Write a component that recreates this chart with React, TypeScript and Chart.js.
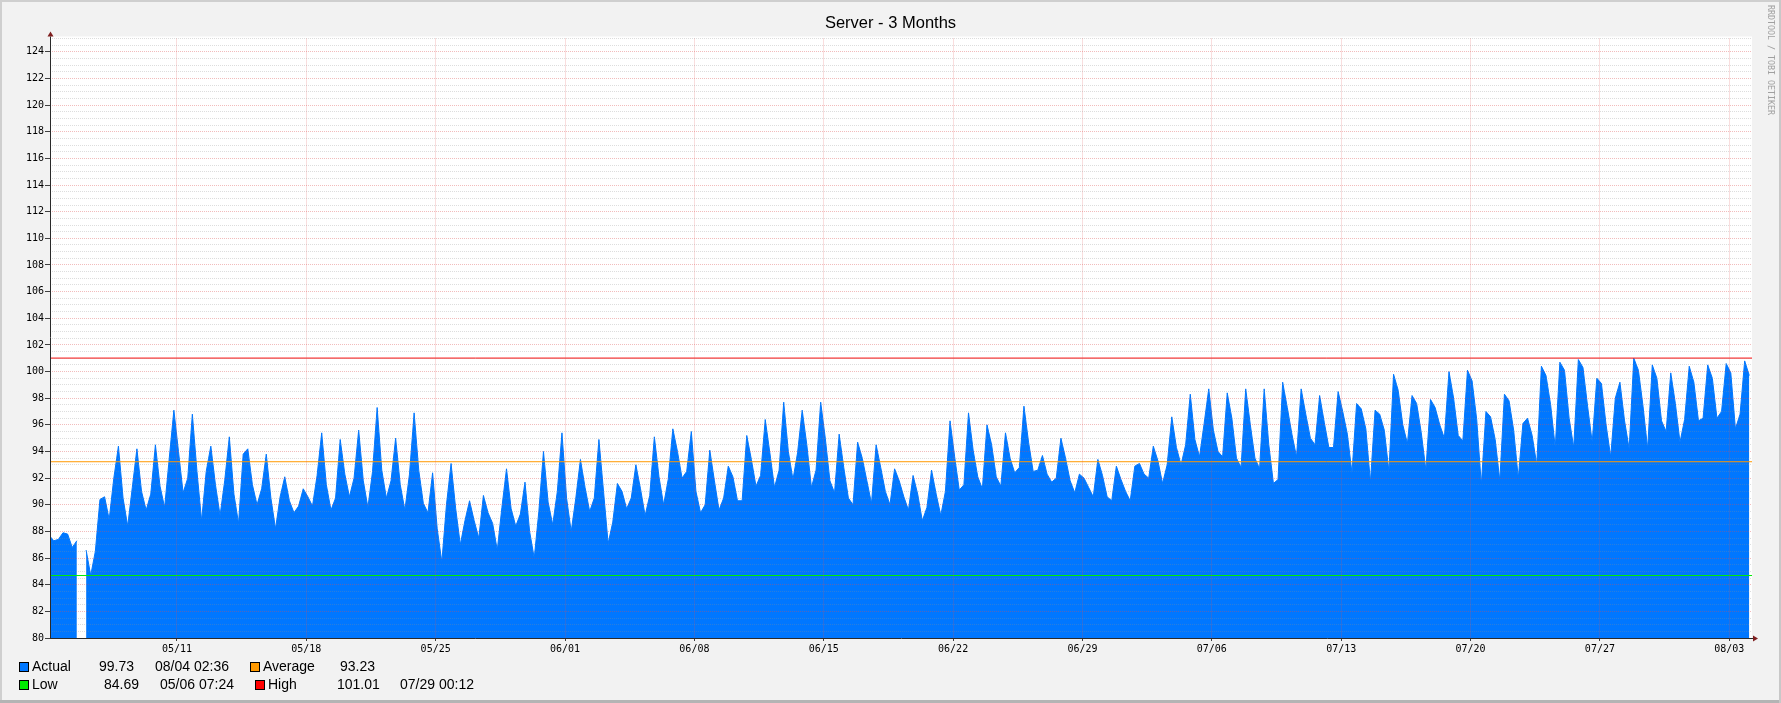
import React, { useEffect, useRef } from "react";
import { Chart, registerables } from "chart.js";

Chart.register(...registerables);

const chartTitle = "Server - 3 Months";
const watermark = "RRDTOOL / TOBI OETIKER";

// time axis in days after 05/04 00:00
const xMinDay = 0.13;
const xMaxDay = 92.23;
const firstHour = 2; // first sample 05/04 02:00
const stepHours = 6; // samples at 02:00, 08:00, 14:00, 20:00

const weekTickDays = [7, 14, 21, 28, 35, 42, 49, 56, 63, 70, 77, 84, 91];
const weekTickLabels = [
  "05/11", "05/18", "05/25", "06/01", "06/08", "06/15", "06/22",
  "06/29", "07/06", "07/13", "07/20", "07/27", "08/03",
];

const yMin = 80;
const yMax = 125;

// 02:00, 08:00, 14:00, 20:00 per day
const actual: (number | null)[] = [
  87.7, 87.3, 87.4, 87.9, // 05/04
  87.8, 86.8, 87.3, null, // 05/05
  86.6, 84.7, 86.5, 90.4, // 05/06
  90.6, 88.9, 92.0, 94.4, // 05/07
  90.5, 88.4, 91.3, 94.2, // 05/08
  91.0, 89.6, 90.8, 94.5, // 05/09
  91.4, 89.8, 93.5, 97.1, // 05/10
  94.0, 90.9, 92.0, 96.8, // 05/11
  92.5, 88.8, 92.5, 94.4, // 05/12
  91.5, 89.2, 91.8, 95.1, // 05/13
  90.8, 88.6, 93.8, 94.2, // 05/14
  91.5, 90.0, 91.2, 93.8, // 05/15
  90.5, 88.2, 90.6, 92.1, // 05/16
  90.3, 89.4, 89.9, 91.2, // 05/17
  90.6, 89.9, 92.2, 95.4, // 05/18
  91.5, 89.6, 90.5, 94.9, // 05/19
  92.3, 90.6, 92.0, 95.6, // 05/20
  91.8, 89.8, 92.5, 97.3, // 05/21
  92.6, 90.5, 91.8, 95.0, // 05/22
  91.5, 89.6, 92.3, 96.9, // 05/23
  92.6, 90.1, 89.4, 92.4, // 05/24
  88.2, 85.7, 90.0, 93.1, // 05/25
  89.7, 87.0, 88.8, 90.3, // 05/26
  88.8, 87.5, 90.7, 89.4, // 05/27
  88.6, 86.6, 89.8, 92.7, // 05/28
  89.7, 88.4, 89.3, 91.7, // 05/29
  88.0, 86.0, 89.5, 94.0, // 05/30
  90.2, 88.5, 91.0, 95.4, // 05/31
  90.5, 88.0, 90.5, 93.4, // 06/01
  91.3, 89.5, 90.5, 94.9, // 06/02
  91.0, 87.1, 88.7, 91.6, // 06/03
  91.0, 89.7, 90.5, 93.0, // 06/04
  91.2, 89.2, 90.7, 95.1, // 06/05
  92.1, 90.0, 91.9, 95.7, // 06/06
  94.0, 92.0, 92.5, 95.5, // 06/07
  91.0, 89.4, 90.0, 94.1, // 06/08
  91.8, 89.6, 90.5, 92.9, // 06/09
  92.1, 90.3, 90.3, 95.2, // 06/10
  93.4, 91.4, 92.2, 96.4, // 06/11
  93.9, 91.3, 92.6, 97.7, // 06/12
  94.0, 91.9, 93.9, 97.1, // 06/13
  94.5, 91.3, 92.6, 97.7, // 06/14
  95.0, 91.8, 90.9, 95.3, // 06/15
  92.8, 90.5, 90.0, 94.7, // 06/16
  93.5, 91.8, 90.1, 94.5, // 06/17
  92.8, 91.0, 90.0, 92.7, // 06/18
  91.8, 90.6, 89.6, 92.2, // 06/19
  90.8, 88.8, 89.8, 92.6, // 06/20
  90.8, 89.2, 91.0, 96.3, // 06/21
  93.6, 91.1, 91.5, 96.9, // 06/22
  94.1, 92.1, 91.2, 96.0, // 06/23
  94.5, 92.1, 91.4, 95.4, // 06/24
  93.5, 92.4, 92.8, 97.4, // 06/25
  94.7, 92.5, 92.6, 93.7, // 06/26
  92.3, 91.7, 92.0, 95.0, // 06/27
  93.5, 91.8, 90.9, 92.3, // 06/28
  92.0, 91.3, 90.6, 93.4, // 06/29
  92.2, 90.6, 90.3, 92.9, // 06/30
  91.9, 91.0, 90.3, 92.9, // 07/01
  93.1, 92.3, 92.0, 94.4, // 07/02
  93.3, 91.6, 93.0, 96.6, // 07/03
  94.3, 93.0, 94.5, 98.3, // 07/04
  94.9, 93.6, 96.1, 98.7, // 07/05
  95.6, 94.0, 93.6, 98.4, // 07/06
  96.5, 93.5, 92.8, 98.7, // 07/07
  96.0, 93.5, 92.7, 98.7, // 07/08
  94.5, 91.6, 91.9, 99.2, // 07/09
  97.3, 95.3, 93.6, 98.7, // 07/10
  96.8, 95.0, 94.5, 98.2, // 07/11
  96.2, 94.3, 94.3, 98.5, // 07/12
  97.0, 95.3, 92.4, 97.6, // 07/13
  97.2, 95.7, 91.7, 97.1, // 07/14
  96.8, 95.6, 92.5, 99.8, // 07/15
  98.6, 96.0, 94.6, 98.2, // 07/16
  97.6, 95.4, 92.6, 97.9, // 07/17
  97.3, 96.0, 95.0, 100.0, // 07/18
  98.0, 95.2, 94.8, 100.1, // 07/19
  99.3, 96.4, 91.5, 97.0, // 07/20
  96.6, 94.9, 91.8, 98.3, // 07/21
  97.8, 95.6, 92.0, 96.1, // 07/22
  96.5, 95.2, 93.0, 100.4, // 07/23
  99.7, 97.5, 94.3, 100.7, // 07/24
  100.1, 96.5, 94.3, 100.9, // 07/25
  100.3, 97.4, 94.7, 99.5, // 07/26
  99.1, 96.0, 93.6, 98.0, // 07/27
  99.2, 96.3, 94.2, 101.0, // 07/28
  100.1, 97.4, 94.2, 100.5, // 07/29
  99.5, 96.3, 95.5, 99.9, // 07/30
  97.6, 94.7, 96.4, 100.4, // 07/31
  99.2, 96.3, 96.5, 100.5, // 08/01
  99.5, 96.5, 97.0, 100.6, // 08/02
  99.9, 95.7, 96.8, 100.8, // 08/03
  99.7, // 08/04
];

const averageValue = 93.23;
const lowValue = 84.69;
const highValue = 101.01;

const actualLast = "99.73";
const actualLastTime = "08/04 02:36";
const lowTime = "05/06 07:24";
const highTime = "07/29 00:12";

const blue = "#0077ff";
const orange = "#ff9900";
const green = "#00ee00";
const red = "#ff0000";

const monoFont = '"DejaVu Sans Mono", monospace';
const sansFont = '"Liberation Sans", Arial, sans-serif';

const drawBox = (ctx: CanvasRenderingContext2D, x: number, y: number, color: string) => {
  ctx.fillStyle = color;
  ctx.fillRect(x, y, 10, 10);
  ctx.strokeStyle = "#000000";
  ctx.lineWidth = 1;
  ctx.strokeRect(x + 0.5, y + 0.5, 9, 9);
};

const rrdPlugin = {
  id: "rrdFrame",
  beforeDraw(chart: any) {
    const { ctx, width, height, chartArea: a } = chart;
    ctx.save();
    ctx.fillStyle = "#f2f2f2";
    ctx.fillRect(0, 0, width, height);
    ctx.fillStyle = "#cfcfcf";
    ctx.fillRect(0, 0, width, 2);
    ctx.fillRect(0, 0, 2, height);
    ctx.fillStyle = "#b4b4b4";
    ctx.fillRect(0, height - 3, width, 3);
    ctx.fillStyle = "#c8c8c8";
    ctx.fillRect(width - 2, 0, 2, height);
    ctx.fillStyle = "#ffffff";
    ctx.fillRect(a.left, a.top - 2, a.right - a.left, a.bottom - a.top + 2);
    ctx.restore();
  },
  afterDraw(chart: any) {
    const { ctx, width, chartArea: a } = chart;
    ctx.save();

    // axes
    ctx.strokeStyle = "#2a2a2a";
    ctx.lineWidth = 1;
    ctx.beginPath();
    ctx.moveTo(a.left + 0.5, a.bottom + 0.5);
    ctx.lineTo(a.left + 0.5, a.top - 2);
    ctx.moveTo(a.left, a.bottom + 0.5);
    ctx.lineTo(a.right + 1, a.bottom + 0.5);
    ctx.stroke();

    // arrows
    ctx.fillStyle = "#7f1f1f";
    ctx.beginPath();
    ctx.moveTo(a.left + 0.5 - 3, a.top - 2);
    ctx.lineTo(a.left + 0.5 + 3, a.top - 2);
    ctx.lineTo(a.left + 0.5, a.top - 7);
    ctx.closePath();
    ctx.fill();
    ctx.beginPath();
    ctx.moveTo(a.right + 1, a.bottom + 0.5 - 3);
    ctx.lineTo(a.right + 1, a.bottom + 0.5 + 3);
    ctx.lineTo(a.right + 6, a.bottom + 0.5);
    ctx.closePath();
    ctx.fill();

    // title
    ctx.fillStyle = "#000000";
    ctx.font = `16.5px ${sansFont}`;
    ctx.textAlign = "center";
    ctx.textBaseline = "alphabetic";
    ctx.fillText(chartTitle, width / 2, 28);

    // legend
    ctx.textAlign = "left";
    ctx.font = `14px ${sansFont}`;
    drawBox(ctx, 19, 662, blue);
    ctx.fillStyle = "#000000";
    ctx.fillText("Actual", 32, 671);
    ctx.fillText(actualLast, 99, 671);
    ctx.fillText(actualLastTime, 155, 671);
    drawBox(ctx, 250, 662, orange);
    ctx.fillStyle = "#000000";
    ctx.fillText("Average", 263, 671);
    ctx.fillText(averageValue.toFixed(2), 340, 671);

    drawBox(ctx, 19, 680, green);
    ctx.fillStyle = "#000000";
    ctx.fillText("Low", 32, 689);
    ctx.fillText(lowValue.toFixed(2), 104, 689);
    ctx.fillText(lowTime, 160, 689);
    drawBox(ctx, 255, 680, red);
    ctx.fillStyle = "#000000";
    ctx.fillText("High", 268, 689);
    ctx.fillText(highValue.toFixed(2), 337, 689);
    ctx.fillText(highTime, 400, 689);

    // watermark
    ctx.translate(width - 13, 5);
    ctx.rotate(Math.PI / 2);
    ctx.fillStyle = "#a0a0a0";
    ctx.font = `8.3px ${monoFont}`;
    ctx.fillText(watermark, 0, 0);

    ctx.restore();
  },
};

const RrdChart = () => {
  const canvasRef = useRef<HTMLCanvasElement>(null);

  useEffect(() => {
    document.body.style.margin = "0";
    const points = actual.map((y, i) => ({ x: (firstHour + i * stepHours) / 24, y }));
    const rule = (v: number) => [
      { x: xMinDay, y: v },
      { x: xMaxDay, y: v },
    ];

    const chart = new Chart(canvasRef.current as HTMLCanvasElement, {
      type: "line",
      data: {
        datasets: [
          {
            label: "High",
            data: rule(highValue),
            borderColor: red,
            borderWidth: 1,
            pointRadius: 0,
            fill: false,
            order: 0,
          },
          {
            label: "Average",
            data: rule(averageValue),
            borderColor: orange,
            borderWidth: 1,
            pointRadius: 0,
            fill: false,
            order: 0,
          },
          {
            label: "Low",
            data: rule(lowValue),
            borderColor: green,
            borderWidth: 1,
            pointRadius: 0,
            fill: false,
            order: 0,
          },
          {
            label: "Actual",
            data: points,
            borderColor: blue,
            backgroundColor: blue,
            borderWidth: 1,
            pointRadius: 0,
            tension: 0,
            fill: "start",
            order: 1,
          },
        ],
      },
      options: {
        animation: false,
        responsive: false,
        events: [],
        layout: { padding: { left: 0, right: 29, top: 38.5, bottom: 45 } },
        plugins: {
          legend: { display: false },
          title: { display: false },
          tooltip: { enabled: false },
        },
        scales: {
          x: {
            type: "linear",
            min: xMinDay,
            max: xMaxDay,
            afterBuildTicks: (axis: any) => {
              axis.ticks = weekTickDays.map((value) => ({ value }));
            },
            afterFit: (axis: any) => {
              axis.height = 20;
            },
            ticks: {
              autoSkip: false,
              maxRotation: 0,
              padding: 2,
              color: "#000000",
              font: { family: monoFont, size: 10 },
              callback: (_v: any, i: number) => weekTickLabels[i],
            },
            grid: {
              color: "rgba(222, 79, 79, 0.38)",
              lineWidth: 1,
              z: 1,
              tickLength: 3,
              tickColor: "#404040",
            },
            border: { display: false, dash: [1, 1] },
          },
          y: {
            min: yMin,
            max: yMax,
            afterFit: (axis: any) => {
              axis.width = 50;
            },
            ticks: {
              stepSize: 0.5,
              autoSkip: false,
              padding: 1,
              color: "#000000",
              font: { family: monoFont, size: 10 },
              callback: (v: any) => (Number(v) % 2 === 0 ? String(v) : ""),
            },
            grid: {
              color: (c: any) =>
                c.tick && c.tick.value % 2 === 0
                  ? "rgba(222, 79, 79, 0.38)"
                  : "rgba(143, 143, 143, 0.3)",
              tickColor: (c: any) =>
                c.tick && c.tick.value % 2 === 0 ? "#404040" : "rgba(0,0,0,0)",
              lineWidth: 1,
              z: 1,
              tickLength: 5,
            },
            border: { display: false, dash: [1, 1] },
          },
        },
      },
      plugins: [rrdPlugin],
    } as any);

    return () => {
      chart.destroy();
    };
  }, []);

  return (
    <div style={{ width: 1781, height: 703 }}>
      <canvas ref={canvasRef} width={1781} height={703} />
    </div>
  );
};

export default function App() {
  return <RrdChart />;
}
